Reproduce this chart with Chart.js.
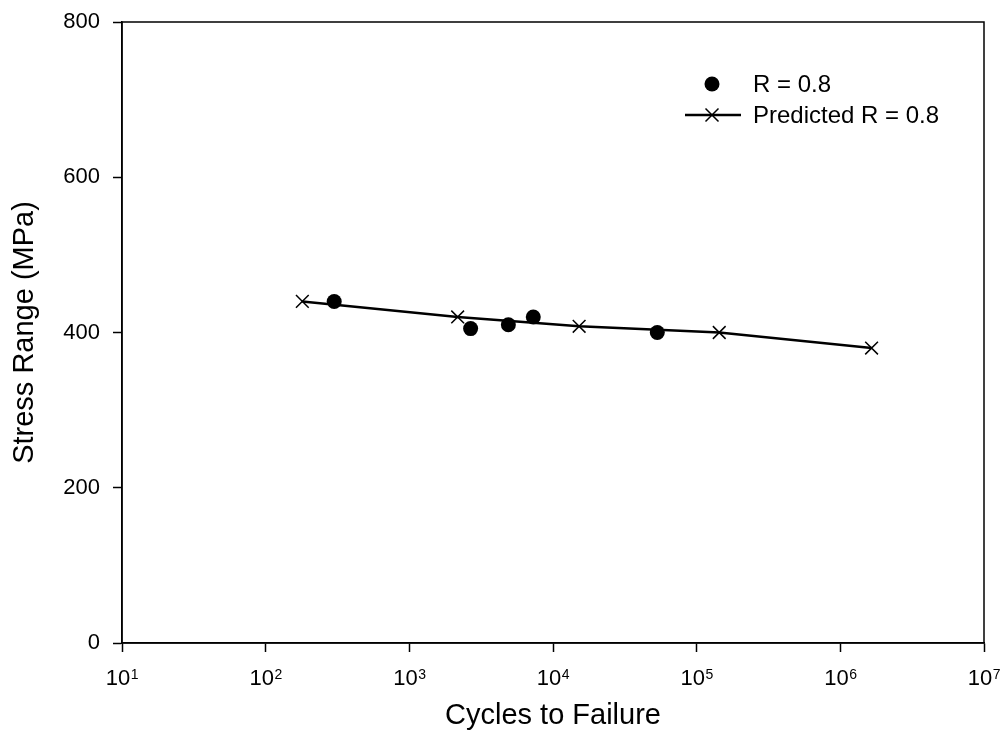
<!DOCTYPE html>
<html lang="en">
<head>
    <meta charset="UTF-8">
    <title>Stress Range vs Cycles to Failure</title>
    <style>
        body {
            margin: 0;
            background: #fff;
        }
        #chartContainer {
            width: 1004px;
            height: 734px;
        }
    </style>
    <script src="https://cdn.jsdelivr.net/npm/chart.js"></script>
</head>
<body>
    <div id="chartContainer">
        <canvas id="snChart"></canvas>
    </div>
    <script>
        // measured data, R = 0.8
        const measuredCycles = [300, 2670, 4890, 7290, 53200];
        const measuredStress = [440, 405, 410, 420, 400];

        // predicted curve, R = 0.8
        const predictedCycles = [180, 2170, 15200, 143600, 1650000];
        const predictedStress = [440, 420, 408, 400, 380];

        const xTickValues = [1e1, 1e2, 1e3, 1e4, 1e5, 1e6, 1e7];
        const yTickValues = [0, 200, 400, 600, 800];

        const FONT = '"Liberation Sans", Arial, sans-serif';

        // box round the plot area
        const frame = {
            id: 'frame',
            afterDraw(chart) {
                const { ctx, chartArea: a } = chart;
                ctx.save();
                ctx.strokeStyle = '#000';
                ctx.lineWidth = 1.5;
                ctx.strokeRect(a.left, a.top, a.right - a.left, a.bottom - a.top);
                ctx.restore();
            }
        };

        // x tick labels as 10 with a raised exponent
        const powerLabels = {
            id: 'powerLabels',
            afterDraw(chart) {
                const ctx = chart.ctx;
                const xs = chart.scales.x;
                const base = xs.top + 42;
                ctx.save();
                ctx.fillStyle = '#000';
                ctx.textBaseline = 'alphabetic';
                xs.ticks.forEach(t => {
                    const exp = String(Math.round(Math.log10(t.value)));
                    const px = xs.getPixelForValue(t.value);
                    ctx.font = '22px ' + FONT;
                    const w10 = ctx.measureText('10').width;
                    ctx.font = '14px ' + FONT;
                    const wExp = ctx.measureText(exp).width;
                    const start = px - (w10 + wExp) / 2;
                    ctx.font = '22px ' + FONT;
                    ctx.fillText('10', start, base);
                    ctx.font = '14px ' + FONT;
                    ctx.fillText(exp, start + w10 + 0.5, base - 6);
                });
                ctx.restore();
            }
        };

        // legend placed inside the plot, top right
        const insideLegend = {
            id: 'insideLegend',
            afterDraw(chart) {
                const ctx = chart.ctx;
                const ds = chart.data.datasets;
                ctx.save();
                ctx.fillStyle = '#000';
                ctx.strokeStyle = '#000';
                ctx.font = '24px ' + FONT;
                ctx.textBaseline = 'middle';

                ctx.beginPath();
                ctx.arc(712, 84, 7.5, 0, Math.PI * 2);
                ctx.fill();
                ctx.fillText(ds[0].label, 753, 85);

                ctx.lineWidth = 2.5;
                ctx.beginPath();
                ctx.moveTo(685, 115);
                ctx.lineTo(741, 115);
                ctx.stroke();
                ctx.lineWidth = 1.5;
                const d = 6.5;
                ctx.beginPath();
                ctx.moveTo(712 - d, 115 - d);
                ctx.lineTo(712 + d, 115 + d);
                ctx.moveTo(712 - d, 115 + d);
                ctx.lineTo(712 + d, 115 - d);
                ctx.stroke();
                ctx.fillText(ds[1].label, 753, 116);
                ctx.restore();
            }
        };

        const ctx = document.getElementById('snChart').getContext('2d');

        new Chart(ctx, {
            type: 'scatter',
            data: {
                datasets: [
                    {
                        label: 'R = 0.8',
                        data: measuredCycles.map((c, i) => ({ x: c, y: measuredStress[i] })),
                        pointStyle: 'circle',
                        pointRadius: 7.5,
                        pointBorderWidth: 0,
                        backgroundColor: '#000',
                        borderColor: '#000',
                        showLine: false
                    },
                    {
                        label: 'Predicted R = 0.8',
                        data: predictedCycles.map((c, i) => ({ x: c, y: predictedStress[i] })),
                        pointStyle: 'crossRot',
                        pointRadius: 9,
                        pointBorderWidth: 1.5,
                        pointBorderColor: '#000',
                        borderColor: '#000',
                        borderWidth: 2.5,
                        showLine: true,
                        tension: 0
                    }
                ]
            },
            options: {
                responsive: true,
                maintainAspectRatio: false,
                animation: false,
                layout: {
                    padding: { left: 0, right: 20, top: 22, bottom: 0 }
                },
                plugins: {
                    legend: { display: false },
                    tooltip: { enabled: false }
                },
                scales: {
                    x: {
                        type: 'logarithmic',
                        min: 1e1,
                        max: 1e7,
                        afterBuildTicks: scale => {
                            scale.ticks = xTickValues.map(v => ({ value: v, major: true }));
                        },
                        afterFit: scale => {
                            scale.height = 91;
                            scale.paddingLeft = 0;
                            scale.paddingRight = 0;
                        },
                        grid: {
                            drawOnChartArea: false,
                            drawTicks: true,
                            tickLength: 9,
                            tickWidth: 1.5,
                            color: '#000'
                        },
                        border: { color: '#000', width: 1.5 },
                        ticks: {
                            display: false,
                            autoSkip: false
                        },
                        title: {
                            display: true,
                            text: 'Cycles to Failure',
                            color: '#000',
                            font: { family: FONT, size: 29 },
                            padding: { top: 0, bottom: 1 }
                        }
                    },
                    y: {
                        min: 0,
                        max: 800,
                        afterBuildTicks: scale => {
                            scale.ticks = yTickValues.map(v => ({ value: v }));
                        },
                        afterFit: scale => {
                            scale.width = 122;
                            scale.paddingTop = 0;
                            scale.paddingBottom = 0;
                        },
                        grid: {
                            drawOnChartArea: false,
                            drawTicks: true,
                            tickLength: 9,
                            tickWidth: 1.5,
                            color: '#000'
                        },
                        border: { color: '#000', width: 1.5 },
                        ticks: {
                            color: '#000',
                            padding: 13,
                            font: { family: FONT, size: 22 }
                        },
                        title: {
                            display: true,
                            text: 'Stress Range (MPa)',
                            color: '#000',
                            font: { family: FONT, size: 29 },
                            padding: { top: 8, bottom: 0 }
                        }
                    }
                }
            },
            plugins: [frame, powerLabels, insideLegend]
        });
    </script>
</body>
</html>
